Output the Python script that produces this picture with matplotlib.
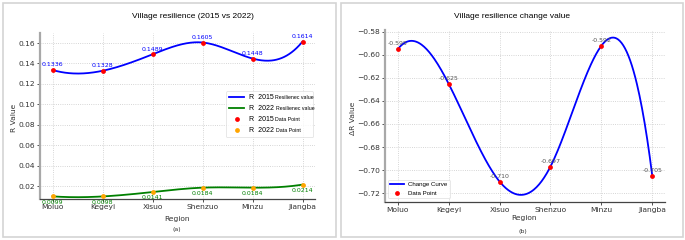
import numpy as np
import matplotlib
matplotlib.use('Agg')
import matplotlib.pyplot as plt
from matplotlib.patches import Rectangle
from matplotlib.transforms import Bbox

regions = ['Moluo', 'Kegeyi', 'Xisuo', 'Shenzuo', 'Minzu', 'Jiangba']
r2015 = [0.1336, 0.1328, 0.1489, 0.1605, 0.1448, 0.1614]
r2022 = [0.0099, 0.0098, 0.0141, 0.0184, 0.0184, 0.0214]
delta_r = [-0.595, -0.625, -0.710, -0.697, -0.592, -0.705]


def spline(x, y, n=300):
	# cubic spline, not-a-knot ends
	x = np.asarray(x, float)
	y = np.asarray(y, float)
	k = len(x)
	h = np.diff(x)
	A = np.zeros((k, k))
	b = np.zeros(k)
	for i in range(1, k - 1):
		A[i, i - 1] = h[i - 1]
		A[i, i] = 2 * (h[i - 1] + h[i])
		A[i, i + 1] = h[i]
		b[i] = 6 * ((y[i + 1] - y[i]) / h[i] - (y[i] - y[i - 1]) / h[i - 1])
	A[0, 0], A[0, 1], A[0, 2] = -1 / h[0], 1 / h[0] + 1 / h[1], -1 / h[1]
	A[-1, -3], A[-1, -2], A[-1, -1] = -1 / h[-2], 1 / h[-2] + 1 / h[-1], -1 / h[-1]
	M = np.linalg.solve(A, b)
	xs = np.linspace(x[0], x[-1], n)
	idx = np.clip(np.searchsorted(x, xs) - 1, 0, k - 2)
	x0, x1 = x[idx], x[idx + 1]
	hh = x1 - x0
	t0, t1 = x1 - xs, xs - x0
	ys = (M[idx] * t0 ** 3 + M[idx + 1] * t1 ** 3) / (6 * hh) \
		+ (y[idx] / hh - M[idx] * hh / 6) * t0 + (y[idx + 1] / hh - M[idx + 1] * hh / 6) * t1
	return xs, ys


W, H = 685, 240
fig = plt.figure(figsize=(W / 100, H / 100), dpi=100)


def px(x0, y0, w, h):
	return [x0 / W, 1 - (y0 + h) / H, w / W, h / H]


def fpos(x, y):
	return x / W, 1 - y / H


def fbox(x0, y0, x1, y1):
	return Bbox.from_extents(x0 / W, 1 - y1 / H, x1 / W, 1 - y0 / H)


# panel frames
for x0, x1 in [(3, 336), (341, 683)]:
	fig.patches.append(Rectangle((x0 / W, 3 / H), (x1 - x0) / W, 234 / H, transform=fig.transFigure,
	                             fill=False, ec='#d4d4d4', lw=1.2))

TICK = 5.4
LAB = 5.4
ANN = 4.5


def style(ax):
	for s in ['top', 'right']:
		ax.spines[s].set_visible(False)
	ax.spines['left'].set_color('#a8a8a8')
	ax.spines['left'].set_linewidth(1.6)
	ax.spines['bottom'].set_color('#444444')
	ax.spines['bottom'].set_linewidth(0.9)
	ax.grid(True, ls=':', color='#c8c8c8', lw=0.6)
	ax.set_axisbelow(True)
	ax.tick_params(labelsize=TICK, length=2, width=0.6, pad=1.5, colors='#333333')


xi = np.arange(len(regions))

# (a)
ax = fig.add_axes(px(40, 33, 275, 166))
style(ax)
xs, ys = spline(xi, r2015)
ax.plot(xs, ys, color='blue', lw=1.3, label='R  2015')
xs, ys = spline(xi, r2022)
ax.plot(xs, ys, color='green', lw=1.3, label='R  2022')
ax.scatter(xi, r2015, color='red', s=12, zorder=4, lw=0, label='R  2015')
ax.scatter(xi, r2022, color='orange', s=12, zorder=4, lw=0, label='R  2022')
for i, v in enumerate(r2015):
	ax.annotate(f'{v:.4f}', (i, v), xytext=(0, 1.8), textcoords='offset points', ha='center',
	            va='bottom', fontsize=ANN, color='blue')
for i, v in enumerate(r2022):
	ax.annotate(f'{v:.4f}', (i, v), xytext=(0, -2.3), textcoords='offset points', ha='center',
	            va='top', fontsize=ANN, color='green')
ax.set_xticks(xi)
ax.set_xticklabels(regions)
ax.set_yticks(np.arange(0.02, 0.161, 0.02))
ax.set_yticklabels([f'{t:.2f}' for t in np.arange(0.02, 0.161, 0.02)])
ax.set_ylim(0.0073, 0.1698)
leg_a = ax.legend(loc='lower left', bbox_to_anchor=fbox(226, 97, 313, 137), bbox_transform=fig.transFigure,
                  mode='expand', prop={'family': 'Liberation Sans', 'size': 5}, frameon=True,
                  handlelength=2.2, handletextpad=0.6, borderpad=0.45, labelspacing=0.55, borderaxespad=0)
leg_a.get_frame().set_edgecolor('#dddddd')
leg_a.get_frame().set_linewidth(0.6)
ax.text(*fpos(193, 17), 'Village resilience (2015 vs 2022)', transform=fig.transFigure,
        ha='center', va='center', fontsize=6, family='Liberation Sans')
ax.text(*fpos(177, 219), 'Region', transform=fig.transFigure, ha='center', va='center',
        fontsize=LAB, color='#333333')
ax.text(*fpos(177, 229), '(a)', transform=fig.transFigure, ha='center', va='center',
        fontsize=4.5, color='#333333')
ax.text(*fpos(14, 118), 'R Value', transform=fig.transFigure, ha='center', va='center',
        rotation=90, fontsize=LAB, color='#333333')

# (b)
ax = fig.add_axes(px(385, 30, 280, 172))
style(ax)
xs, ys = spline(xi, delta_r)
ax.plot(xs, ys, color='blue', lw=1.3, label='Change Curve')
ax.scatter(xi, delta_r, color='red', s=12, zorder=4, lw=0, label='Data Point')
for i, v in enumerate(delta_r):
	ax.annotate(f'{v:.3f}', (i, v), xytext=(0, 2.0), textcoords='offset points', ha='center',
	            va='bottom', fontsize=ANN, color='#555555')
ax.set_xticks(xi)
ax.set_xticklabels(regions)
ax.set_yticks(np.arange(-0.72, -0.579, 0.02))
ax.set_ylim(-0.7278, -0.5783)
leg_b = ax.legend(loc='lower left', bbox_to_anchor=fbox(388, 178, 450, 198), bbox_transform=fig.transFigure,
                  mode='expand', prop={'family': 'Liberation Sans', 'size': 4.4}, frameon=True,
                  handlelength=2.2, handletextpad=0.6, borderpad=0.4, labelspacing=0.5, borderaxespad=0)
leg_b.get_frame().set_edgecolor('#dddddd')
leg_b.get_frame().set_linewidth(0.6)
ax.text(*fpos(512, 17), 'Village resilience change value', transform=fig.transFigure,
        ha='center', va='center', fontsize=6, family='Liberation Sans')
ax.text(*fpos(524, 218), 'Region', transform=fig.transFigure, ha='center', va='center',
        fontsize=LAB, color='#333333')
ax.text(*fpos(523, 232), '(b)', transform=fig.transFigure, ha='center', va='center',
        fontsize=4.5, color='#333333')
ax.text(*fpos(353, 118), 'ΔR Value', transform=fig.transFigure, ha='center', va='center',
        rotation=90, fontsize=LAB, color='#333333')

# small suffix after the "R 2015" style legend labels
fig.canvas.draw()
suffix = ['Resilienec value', 'Resilienec value', 'Data Point', 'Data Point']
for t, s in zip(leg_a.get_texts(), suffix):
	bb = t.get_window_extent()
	fig.text(bb.x1 + 2, (bb.y0 + bb.y1) / 2, s, transform=None, ha='left', va='center',
	         fontsize=3.8, family='Liberation Sans', zorder=10)

fig.savefig('out.png', dpi=100)
